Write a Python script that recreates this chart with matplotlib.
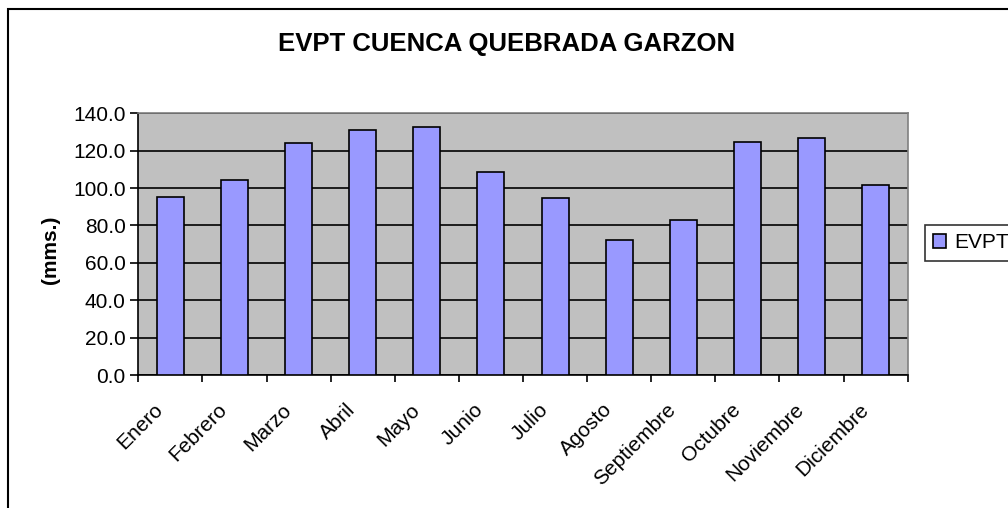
import numpy as np
import matplotlib.pyplot as plt
import matplotlib.transforms as mtrans
from matplotlib.patches import Rectangle

plt.rcParams['font.family'] = ['Liberation Sans', 'DejaVu Sans']

meses = ['Enero', 'Febrero', 'Marzo', 'Abril', 'Mayo', 'Junio', 'Julio',
         'Agosto', 'Septiembre', 'Octubre', 'Noviembre', 'Diciembre']
evpt = [95.4, 104.3, 124.0, 131.1, 132.9, 108.8, 94.5,
        72.2, 82.9, 124.8, 126.6, 101.7]
yticks = [0, 20, 40, 60, 80, 100, 120, 140]

fig = plt.figure(figsize=(10.08, 5.08), dpi=100)
# marco exterior del grafico (se corta a la derecha y abajo)
fig.patches.append(Rectangle((8 / 1008, -0.05), 1.05, 1 - 9 / 508 + 0.05,
                             transform=fig.transFigure, fill=False,
                             edgecolor='black', linewidth=1.5))

ax = fig.add_axes([0.1372, 0.2618, 0.7633, 0.5152])
ax.set_facecolor('#C0C0C0')

x = np.arange(len(meses))
ax.bar(x, evpt, width=0.42, color='#9999FF', edgecolor='black',
       linewidth=1.2, label='EVPT', zorder=3)

ax.set_xlim(-0.5, len(meses) - 0.5)
ax.set_ylim(0, 140)
ax.set_yticks(yticks)
ax.set_yticklabels(['%.1f' % v for v in yticks], fontsize=15)
ax.yaxis.grid(True, color='black', linewidth=1.2, zorder=1)
ax.set_axisbelow(True)

# ticks entre categorias, etiquetas en el centro
ax.set_xticks(np.arange(len(meses) + 1) - 0.5)
ax.set_xticklabels([])
ax.set_xticks(x, minor=True)
ax.set_xticklabels(meses, minor=True, rotation=45, ha='right',
                   rotation_mode='anchor', fontsize=15)
ax.tick_params(axis='x', which='minor', length=0, pad=18)
ax.tick_params(axis='x', which='major', length=5, width=1.2, direction='out')
ax.tick_params(axis='y', length=6, width=1.2, direction='out', pad=3)

desplaza = mtrans.ScaledTranslation(-0.17, 0, fig.dpi_scale_trans)
for lab in ax.get_xticklabels(minor=True):
    lab.set_transform(lab.get_transform() + desplaza)

for s in ['top', 'right']:
    ax.spines[s].set_color('#808080')
    ax.spines[s].set_linewidth(1.2)
for s in ['left', 'bottom']:
    ax.spines[s].set_color('black')
    ax.spines[s].set_linewidth(1.2)

ax.set_ylabel('(mms.)', fontsize=15, fontweight='bold')
ax.yaxis.set_label_coords(-0.102, 0.48)
fig.text(0.503, 1 - 44 / 508, 'EVPT CUENCA QUEBRADA GARZON', ha='center',
         va='center', fontsize=18.5, fontweight='bold')

leg = ax.legend(loc='upper left', bbox_to_anchor=(925 / 1008, 1 - 225 / 508),
                bbox_transform=fig.transFigure, fontsize=15, frameon=True,
                fancybox=False, borderaxespad=0, handlelength=0.6,
                handleheight=0.6, handletextpad=0.4, borderpad=0.4)
leg.get_frame().set_edgecolor('black')
leg.get_frame().set_linewidth(1.2)

fig.savefig('out.png', dpi=100)
